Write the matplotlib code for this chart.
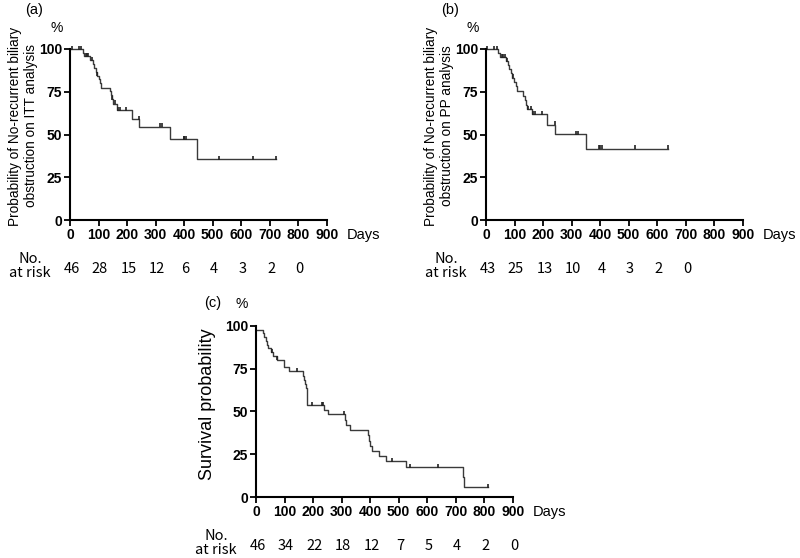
import matplotlib
matplotlib.use("Agg")
import matplotlib.pyplot as plt
import numpy as np

# ---- data ----
# (a) ITT analysis: step times (days) and survival (%) after each step
times_a = [0, 44, 50, 70, 81, 85, 90, 95, 102, 105, 108, 140, 143, 147, 149, 163, 219, 242, 351, 444]
surv_a = [100, 97.9, 95.9, 93.6, 91.3, 89.0, 86.8, 84.5, 82.2, 79.9, 77.4, 75.2, 72.9, 70.5, 68.1, 64.2, 59.1, 54.6, 47.4, 35.6]
censor_a = [6, 31, 38, 56, 60, 64, 77, 96, 148, 157, 169, 174, 198, 241, 314, 322, 398, 401, 405, 521, 640, 721]
risk_a = [46, 28, 15, 12, 6, 4, 3, 2, 0]

# (b) PP analysis
times_b = [0, 43, 49, 70, 76, 81, 86, 92, 98, 104, 110, 131, 136, 140, 144, 162, 213, 242, 349]
surv_b = [100, 97.7, 95.3, 92.9, 90.5, 88.1, 85.7, 83.2, 80.8, 78.3, 75.5, 72.8, 70.1, 67.5, 64.8, 61.7, 55.8, 50.2, 41.8]
censor_b = [5, 29, 37, 55, 60, 65, 75, 96, 148, 157, 166, 172, 195, 241, 314, 323, 397, 401, 405, 522, 639]
risk_b = [43, 25, 13, 10, 4, 3, 2, 0]

# (c) overall survival
times_c = [0, 25, 29, 35, 40, 43, 51, 60, 72, 99, 117, 163, 168, 171, 174, 177, 238, 253, 311, 317, 329,
           393, 397, 401, 408, 431, 457, 527, 725, 728]
surv_c = [97.8, 95.7, 93.5, 91.3, 89.1, 87.0, 84.8, 82.6, 80.4, 76.1, 73.4, 71.0, 68.5, 66.0, 63.5, 53.7, 51.0, 48.3,
          45.2, 42.1, 39.0, 36.0, 33.0, 30.0, 27.0, 24.0, 21.0, 17.5, 11.7, 5.8]
censor_c = [55, 75, 145, 195, 230, 235, 310, 478, 538, 637, 812]
risk_c = [46, 34, 22, 18, 12, 7, 5, 4, 2, 0]

panels = ["(a)", "(b)", "(c)"]
ylabels = ["Probability of No-recurrent biliary\nobstruction on ITT analysis",
           "Probability of No-recurrent biliary\nobstruction on PP analysis",
           "Survival probability"]

tick_font = "Liberation Sans"
jp_font = ["Noto Sans CJK JP", "DejaVu Sans"]

fig = plt.figure(figsize=(8, 5.58), dpi=100)
ax_a = fig.add_axes([0.0875, 0.6057, 0.321, 0.3065])
ax_b = fig.add_axes([0.6075, 0.6057, 0.321, 0.3065])
ax_c = fig.add_axes([0.32, 0.1093, 0.321, 0.3065])


def km(ax, times, surv, censor, risk, tag, ylab, big_label=False):
    t = list(times) + [censor[-1]]
    s = list(surv) + [surv[-1]]
    ax.step(t, s, where="post", color="#3a3a3a", lw=1.0, clip_on=False)
    # censor marks sit on the curve
    idx = np.searchsorted(times, censor, side="right") - 1
    cy = np.array(surv)[idx]
    ax.plot(censor, cy + 0.8, ls="none", marker="|", ms=3.5, mew=1.2, color="#222222", clip_on=False)

    ax.set_xlim(0, 900)
    ax.set_ylim(0, 100)
    ax.set_xticks(range(0, 901, 100))
    ax.set_yticks([0, 25, 50, 75, 100])
    for side in ["top", "right"]:
        ax.spines[side].set_visible(False)
    for side in ["left", "bottom"]:
        ax.spines[side].set_linewidth(1.5)
    ax.tick_params(direction="out", length=4, width=1.3, pad=1.5)
    for lab in ax.get_xticklabels() + ax.get_yticklabels():
        lab.set_fontfamily(tick_font)
        lab.set_fontweight("bold")
        lab.set_fontsize(10)

    trans = ax.get_xaxis_transform()
    ax.text(970, -0.045, "Days", transform=trans, ha="left", va="top",
            fontsize=10.5, family=tick_font)
    if big_label:
        ax.text(-0.055, 1.13, "%", transform=ax.transAxes, ha="center", va="center",
                fontsize=10, family=tick_font)
        ax.text(-0.19, 0.54, ylab, transform=ax.transAxes, rotation=90, ha="center", va="center",
                fontsize=13, family=tick_font)
        ax.text(-0.17, 1.135, tag, transform=ax.transAxes, ha="center", va="center",
                fontsize=10.5, family=tick_font)
    else:
        ax.text(-0.05, 1.12, "%", transform=ax.transAxes, ha="center", va="center",
                fontsize=10, family=tick_font)
        ax.text(-0.183, 0.55, ylab, transform=ax.transAxes, rotation=90, ha="center", va="center",
                fontsize=9.8, family=tick_font, linespacing=1.2)
        ax.text(-0.14, 1.23, tag, transform=ax.transAxes, ha="center", va="center",
                fontsize=10.5, family=tick_font)

    days = range(0, 100 * len(risk), 100)
    for d, n in zip(days, risk):
        ax.text(d + 5, -0.285, str(n), transform=trans, ha="center", va="center",
                fontsize=10.5, family=jp_font, clip_on=False)
    ax.text(-140, -0.27, "No.\nat risk", transform=trans, ha="center", va="center",
            fontsize=10.5, family=jp_font, linespacing=1.05)


km(ax_a, times_a, surv_a, censor_a, risk_a, panels[0], ylabels[0])
km(ax_b, times_b, surv_b, censor_b, risk_b, panels[1], ylabels[1])
km(ax_c, times_c, surv_c, censor_c, risk_c, panels[2], ylabels[2], big_label=True)

fig.savefig("out.png", dpi=100, facecolor="white")
